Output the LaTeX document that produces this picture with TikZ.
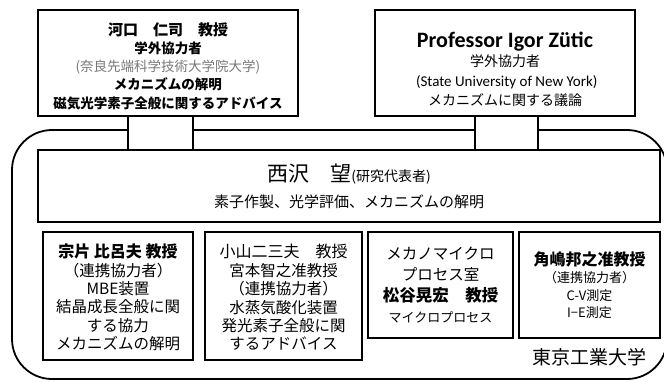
\documentclass[tikz,border=0pt]{standalone}
\usepackage{fontspec}
\setmainfont{Noto Sans CJK JP}
\newfontfamily\lat{Carlito}
\usetikzlibrary{backgrounds}
\definecolor{txtgray}{RGB}{120,120,120}
\tikzset{
  box/.style={draw, line width=1.8pt, fill=white, align=center, inner sep=0pt},
  txt/.style={align=center, inner sep=0pt},
  frame/.style={draw, line width=1.8pt, rounded corners=40pt},
  link/.style={line width=1.8pt},
  fs/.style n args={2}{font=\fontsize{#1}{#2}\selectfont}
}
\newcommand{\fz}[2]{\fontsize{#1}{#2}\selectfont}
\begin{document}
\begin{tikzpicture}[x=1pt,y=-1pt]
\useasboundingbox (0,0) rectangle (664,381);
% top boxes
\node[box, minimum width=260pt, minimum height=106pt] (kawa) at (168,63) {};
\node[txt, fs={13.5}{18.2}] (kawatxt) at ([yshift=-3pt]kawa.center)
 {{\fz{15}{18.2}\bfseries 河口　仁司　教授}\\
  \bfseries 学外協力者\\
  {\color{txtgray}\mdseries (奈良先端科学技術大学院大学)}\\
  \bfseries メカニズムの解明\\
  \bfseries 磁気光学素子全般に関するアドバイス};
\node[box, minimum width=260pt, minimum height=106pt] (igor) at (505,63) {};
\node[txt, fs={14}{19.5}] (igortxt) at ([yshift=-6.5pt]igor.center)
 {{\lat\fz{22}{22}\bfseries Professor Igor Zütic}\\
  学外協力者\\
  {\lat\fz{15}{19.5} (State University of New York)}\\
  メカニズムに関する議論};
% main box
\node[box, fs={15}{26}, minimum width=622pt, minimum height=72pt] (nishi) at (349,186)
 {{\fz{21}{26}西沢　望}{\fz{14}{26}(研究代表者)}\\
  素子作製、光学評価、メカニズムの解明};
% bottom boxes
\node[box, minimum width=150pt, minimum height=128pt] (muna) at (118,296) {};
\node[txt, fs={15.5}{18.4}] (munatxt) at ([yshift=-1.5pt]muna.center)
 {{\fz{16}{18.4}\bfseries 宗片 比呂夫 教授}\\
  （連携協力者）\\
  MBE装置\\
  結晶成長全般に関\\
  する協力\\
  メカニズムの解明};
\node[box, minimum width=157pt, minimum height=128pt] (koya) at (283.5,296) {};
\node[txt, fs={15.5}{18.4}] (koyatxt) at ([yshift=-1.5pt]koya.center)
 {{\fz{16}{18.4}小山二三夫　教授}\\
  宮本智之准教授\\
  （連携協力者）\\
  水蒸気酸化装置\\
  発光素子全般に関\\
  するアドバイス};
\node[box, fs={15.5}{21}, minimum width=145pt, minimum height=106pt] (meka) at (440.5,285)
 {メカノマイクロ\\
  プロセス室\\
  {\fz{16.5}{21}\bfseries 松谷晃宏　教授}\\
  {\fz{13}{21}マイクロプロセス}};
\node[box, fs={13}{17.5}, minimum width=141pt, minimum height=106pt] (kado) at (589.5,285)
 {{\fz{16}{17.5}\bfseries 角嶋邦之准教授}\\
  （連携協力者）\\
  C-V測定\\
  I−E測定};
\node[txt, fs={19}{22}] (tokyo) at (589,357) {東京工業大学};
% frame and connectors behind
\begin{scope}[on background layer]
  \draw[frame] (12,130) rectangle (667,379);
  \fill[white] ([xshift=-40pt]kawa.south) rectangle ([xshift=25pt]kawa.south |- nishi.north);
  \draw[link] ([xshift=-40pt]kawa.south) -- ([xshift=-40pt]kawa.south |- nishi.north);
  \draw[link] ([xshift=25pt]kawa.south) -- ([xshift=25pt]kawa.south |- nishi.north);
  \fill[white] ([xshift=-30pt]igor.south) rectangle ([xshift=33pt]igor.south |- nishi.north);
  \draw[link] ([xshift=-30pt]igor.south) -- ([xshift=-30pt]igor.south |- nishi.north);
  \draw[link] ([xshift=33pt]igor.south) -- ([xshift=33pt]igor.south |- nishi.north);
\end{scope}
\end{tikzpicture}
\end{document}
